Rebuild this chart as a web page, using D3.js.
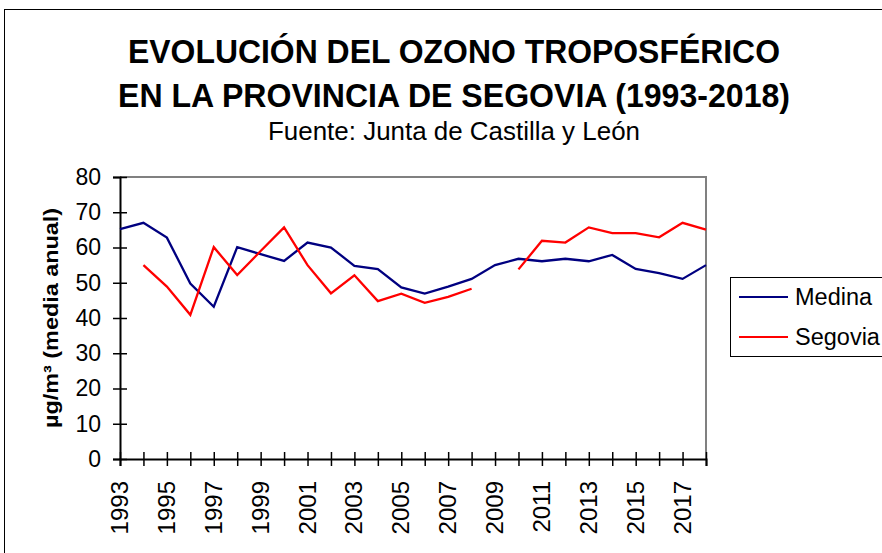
<!DOCTYPE html>
<html>
<head>
<meta charset="utf-8">
<script src="https://cdn.jsdelivr.net/npm/d3@7"></script>
<style>
  body { margin: 0; background: #fff; }
  text { font-family: "Liberation Sans", Arial, sans-serif; }
</style>
</head>
<body>
<div id="chart"></div>
<script>
// data
const years = d3.range(1993, 2019);
const medina = [65.2, 67.0, 62.8, 49.8, 43.2, 60.1, 58.1, 56.2, 61.4, 60.0, 54.8, 53.9, 48.7,
                46.9, 48.9, 51.1, 55.0, 56.8, 56.1, 56.8, 56.1, 57.9, 53.9, 52.7, 51.1, 55.0];
const segovia = [null, 55.0, 48.9, 40.9, 60.1, 52.2, 59.0, 65.7, 55.0, 47.0, 52.1, 44.8, 46.9,
                 44.3, 46.0, 48.3, null, 53.8, 61.9, 61.4, 65.7, 64.1, 64.1, 62.9, 67.0, 65.1];
const yTicks = [0, 10, 20, 30, 40, 50, 60, 70, 80];
const xLabels = years.filter(y => y % 2 == 1);
const seriesNames = ["Medina", "Segovia"];
const seriesColors = ["#000080", "#ff0000"];

const W = 882, H = 553;
const svg = d3.select("#chart").append("svg")
  .attr("width", W).attr("height", H);

// outer frame
svg.append("rect")
  .attr("x", 4.5).attr("y", 9.5).attr("width", W + 10).attr("height", H + 10)
  .attr("fill", "none").attr("stroke", "#000").attr("stroke-width", 1);

// titles
svg.append("text").attr("x", 454).attr("y", 63).attr("text-anchor", "middle")
  .attr("font-size", 33).attr("font-weight", "bold")
  .attr("textLength", 652).attr("lengthAdjust", "spacingAndGlyphs")
  .text("EVOLUCIÓN DEL OZONO TROPOSFÉRICO");
svg.append("text").attr("x", 454).attr("y", 107).attr("text-anchor", "middle")
  .attr("font-size", 33).attr("font-weight", "bold")
  .attr("textLength", 672).attr("lengthAdjust", "spacingAndGlyphs")
  .text("EN LA PROVINCIA DE SEGOVIA (1993-2018)");
svg.append("text").attr("x", 454).attr("y", 140).attr("text-anchor", "middle")
  .attr("font-size", 25)
  .attr("textLength", 372).attr("lengthAdjust", "spacingAndGlyphs")
  .text("Fuente: Junta de Castilla y León");

// scales
const x = d3.scaleLinear().domain([1993, 2018]).range([120, 706]);
const y = d3.scaleLinear().domain([0, 80]).range([459, 177]);

// plot border (top and right, gray)
svg.append("path")
  .attr("d", `M${x(1993)},${y(80)}H${x(2018)}V${y(0)}`)
  .attr("fill", "none").attr("stroke", "#808080").attr("stroke-width", 2);

// y axis
const yAxis = svg.append("g")
  .attr("transform", `translate(${x(1993)},0)`)
  .call(d3.axisLeft(y).tickValues(yTicks).tickSize(7).tickPadding(12));
yAxis.selectAll(".tick line").attr("x2", -7).attr("x1", 7).attr("stroke-width", 1.5);
yAxis.select(".domain").attr("stroke-width", 2);
yAxis.selectAll("text").attr("font-size", 23).attr("font-family", "Liberation Sans, Arial, sans-serif")
  .attr("fill", "#000");

// x axis
const xAxis = svg.append("g")
  .attr("transform", `translate(0,${y(0)})`)
  .call(d3.axisBottom(x).tickValues(years).tickSize(7).tickFormat(""));
xAxis.selectAll(".tick line").attr("y1", -7).attr("y2", 7).attr("stroke-width", 1.5);
xAxis.select(".domain").attr("stroke-width", 2);

svg.append("g").selectAll("text")
  .data(xLabels)
  .enter()
  .append("text")
  .attr("transform", d => `translate(${x(d) + 8},${y(0) + 22}) rotate(-90)`)
  .attr("text-anchor", "end")
  .attr("font-size", 24)
  .text(d => d);

// y axis title
svg.append("text")
  .attr("transform", "translate(58,318) rotate(-90)")
  .attr("text-anchor", "middle")
  .attr("font-size", 21).attr("font-weight", "bold")
  .attr("textLength", 220).attr("lengthAdjust", "spacingAndGlyphs")
  .text("µg/m³ (media anual)");

// lines
const line = d3.line()
  .defined(d => d[1] != null)
  .x(d => x(d[0]))
  .y(d => y(d[1]));

[medina, segovia].forEach((vals, i) => {
  svg.append("path")
    .datum(years.map((yr, j) => [yr, vals[j]]))
    .attr("fill", "none")
    .attr("stroke", seriesColors[i])
    .attr("stroke-width", 2.3)
    .attr("d", line);
});

// legend
const lg = svg.append("g");
lg.append("rect")
  .attr("x", 730.5).attr("y", 277.5).attr("width", 160).attr("height", 79)
  .attr("fill", "#fff").attr("stroke", "#000").attr("stroke-width", 1);
seriesNames.forEach((name, i) => {
  const cy = 297 + i * 40;
  lg.append("line")
    .attr("x1", 739).attr("x2", 788).attr("y1", cy).attr("y2", cy)
    .attr("stroke", seriesColors[i]).attr("stroke-width", 2);
  lg.append("text")
    .attr("x", 795).attr("y", cy + 8)
    .attr("font-size", 23.5)
    .text(name);
});
</script>
</body>
</html>
